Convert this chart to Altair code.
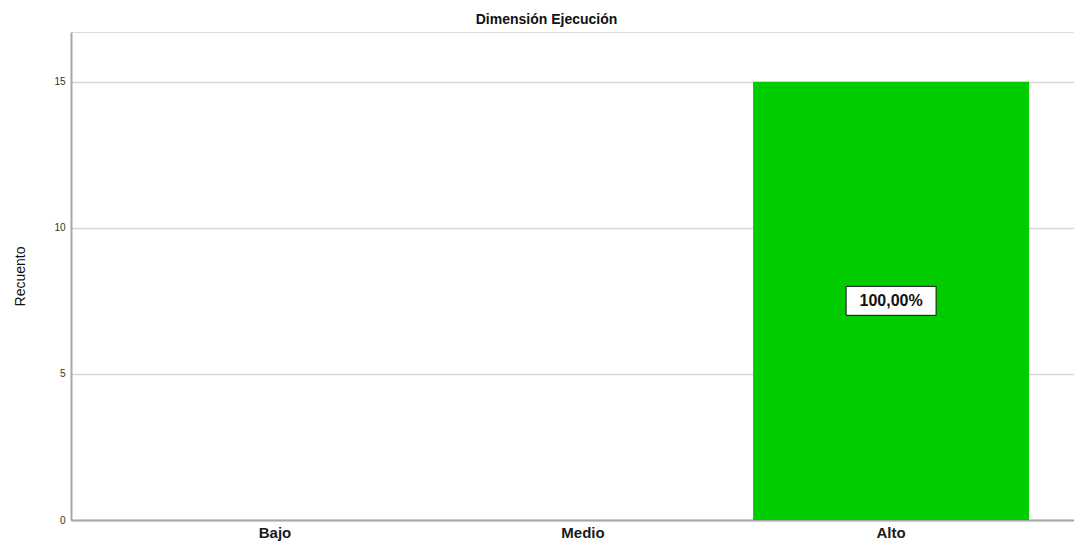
import altair as alt
import pandas as pd

categories = ["Bajo", "Medio", "Alto"]
counts = [0, 0, 15]
pct_labels = ["", "", "100,00%"]

df = pd.DataFrame({"cat": categories, "count": counts, "label": pct_labels})

x_enc = alt.X(
    "cat:N",
    sort=categories,
    scale=alt.Scale(paddingInner=0.104, paddingOuter=0.18, align=0.595),
    axis=alt.Axis(
        title=None,
        labelAngle=0,
        labelFont="Liberation Sans",
        labelFontSize=15,
        labelFontWeight="bold",
        labelColor="#1a1a1a",
        labelPadding=5,
        ticks=False,
        domainColor="#a8a8a8",
        domainWidth=2,
        grid=False,
    ),
)

y_scale = alt.Scale(domain=[0, 16.7], nice=False)

bars = alt.Chart(df).mark_bar(color="#00cc00").encode(
    x=x_enc,
    y=alt.Y(
        "count:Q",
        scale=y_scale,
        axis=alt.Axis(
            title="Recuento",
            titleFont="Liberation Sans",
            titleFontSize=14,
            titleFontWeight="normal",
            titleColor="#111111",
            titlePadding=26,
            values=[0, 5, 10, 15],
            labelFont="Liberation Sans",
            labelFontSize=10,
            labelColor="#333333",
            labelPadding=6,
            ticks=False,
            domainColor="#a8a8a8",
            domainWidth=2,
            grid=True,
            gridColor="#d6d6d6",
            gridWidth=1.5,
        ),
    ),
)

lab_df = df[df["label"] != ""]

box = alt.Chart(lab_df).transform_calculate(mid="datum.count / 2").mark_point(
    shape="M-1,-0.322L1,-0.322L1,0.322L-1,0.322Z",
    size=8100,
    filled=True,
    fill="white",
    stroke="#111111",
    strokeWidth=1,
    opacity=1,
).encode(
    x=alt.X("cat:N", sort=categories),
    y=alt.Y("mid:Q", scale=y_scale),
)

text = alt.Chart(lab_df).transform_calculate(mid="datum.count / 2").mark_text(
    font="Liberation Sans",
    fontSize=16,
    fontWeight="bold",
    color="#111111",
    baseline="middle",
    align="center",
).encode(
    x=alt.X("cat:N", sort=categories),
    y=alt.Y("mid:Q", scale=y_scale),
    text="label:N",
)

chart = (
    alt.layer(bars, box, text)
    .properties(
        width=1003,
        height=488,
        title=alt.TitleParams(
            "Dimensión Ejecución",
            font="Liberation Sans",
            fontSize=14,
            fontWeight="bold",
            color="#111111",
            anchor="middle",
            dx=-26,
            offset=5,
        ),
        autosize=alt.AutoSizeParams(type="none"),
        padding={"left": 63, "top": 24, "right": 0, "bottom": 24},
    )
    .configure_view(stroke="transparent", strokeWidth=0)
    .configure(background="white")
)

chart.save("out.html", embed_options={"renderer": "svg", "actions": False})
